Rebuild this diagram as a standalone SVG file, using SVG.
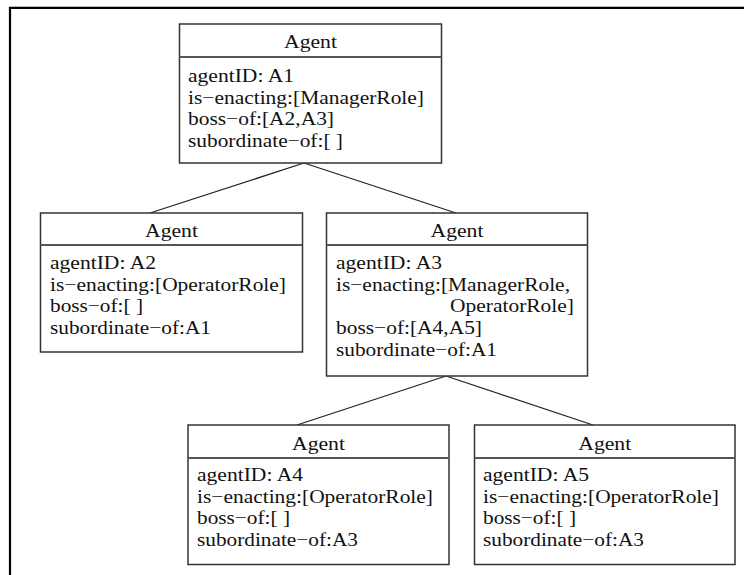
<svg xmlns="http://www.w3.org/2000/svg" width="744" height="575" viewBox="0 0 744 575">
<style>
.box{fill:#fff;stroke:#333;stroke-width:1.5}
.div{stroke:#555;stroke-width:2}
.t{font-family:"Liberation Serif","Times New Roman",serif;font-size:18.6px;fill:#111}
.h{text-anchor:middle}
.e{text-anchor:end}
.c{stroke:#222;stroke-width:1.3;fill:none}
.frame{stroke:#000;stroke-width:2.2;fill:none}
</style>
<rect width="744" height="575" fill="#fff"/>
<path class="frame" d="M10,575 V7.8 H744"/>
<g id="connectors">
<line class="c" x1="304" y1="163" x2="150" y2="213"/>
<line class="c" x1="304" y1="163" x2="456" y2="213"/>
<line class="c" x1="446" y1="376" x2="297" y2="425"/>
<line class="c" x1="446" y1="376" x2="593" y2="425"/>
</g>
<g id="agentA1">
<rect class="box" x="179.5" y="24" width="262" height="139"/>
<line class="div" x1="179.5" y1="57" x2="441.5" y2="57"/>
<text class="t h" x="310.5" y="48" textLength="53" lengthAdjust="spacingAndGlyphs">Agent</text>
<text class="t" x="188" y="82" textLength="106" lengthAdjust="spacingAndGlyphs">agentID: A1</text>
<text class="t" x="188" y="103.5" textLength="236" lengthAdjust="spacingAndGlyphs">is−enacting:[ManagerRole]</text>
<text class="t" x="188" y="125" textLength="146" lengthAdjust="spacingAndGlyphs">boss−of:[A2,A3]</text>
<text class="t" x="188" y="146.5" textLength="155" lengthAdjust="spacingAndGlyphs">subordinate−of:[ ]</text>
</g>
<g id="agentA2">
<rect class="box" x="40.5" y="213" width="262" height="139"/>
<line class="div" x1="40.5" y1="245" x2="302.5" y2="245"/>
<text class="t h" x="171.5" y="237" textLength="53" lengthAdjust="spacingAndGlyphs">Agent</text>
<text class="t" x="50" y="269" textLength="106" lengthAdjust="spacingAndGlyphs">agentID: A2</text>
<text class="t" x="50" y="290.5" textLength="236" lengthAdjust="spacingAndGlyphs">is−enacting:[OperatorRole]</text>
<text class="t" x="50" y="312" textLength="93" lengthAdjust="spacingAndGlyphs">boss−of:[ ]</text>
<text class="t" x="50" y="333.5" textLength="161" lengthAdjust="spacingAndGlyphs">subordinate−of:A1</text>
</g>
<g id="agentA3">
<rect class="box" x="326.5" y="213" width="261" height="163"/>
<line class="div" x1="326.5" y1="245" x2="587.5" y2="245"/>
<text class="t h" x="457" y="237" textLength="53" lengthAdjust="spacingAndGlyphs">Agent</text>
<text class="t" x="336" y="269" textLength="106" lengthAdjust="spacingAndGlyphs">agentID: A3</text>
<text class="t" x="336" y="290.5" textLength="234" lengthAdjust="spacingAndGlyphs">is−enacting:[ManagerRole,</text>
<text class="t e" x="574" y="312" textLength="124" lengthAdjust="spacingAndGlyphs">OperatorRole]</text>
<text class="t" x="336" y="334" textLength="146" lengthAdjust="spacingAndGlyphs">boss−of:[A4,A5]</text>
<text class="t" x="336" y="356" textLength="161" lengthAdjust="spacingAndGlyphs">subordinate−of:A1</text>
</g>
<g id="agentA4">
<rect class="box" x="188" y="425" width="261" height="139.5"/>
<line class="div" x1="188" y1="458" x2="449" y2="458"/>
<text class="t h" x="318.5" y="450" textLength="53" lengthAdjust="spacingAndGlyphs">Agent</text>
<text class="t" x="197" y="481" textLength="106" lengthAdjust="spacingAndGlyphs">agentID: A4</text>
<text class="t" x="197" y="502.5" textLength="236" lengthAdjust="spacingAndGlyphs">is−enacting:[OperatorRole]</text>
<text class="t" x="197" y="524" textLength="93" lengthAdjust="spacingAndGlyphs">boss−of:[ ]</text>
<text class="t" x="197" y="545.5" textLength="161" lengthAdjust="spacingAndGlyphs">subordinate−of:A3</text>
</g>
<g id="agentA5">
<rect class="box" x="474.5" y="425" width="260.5" height="139.5"/>
<line class="div" x1="474.5" y1="458" x2="735" y2="458"/>
<text class="t h" x="604.75" y="450" textLength="53" lengthAdjust="spacingAndGlyphs">Agent</text>
<text class="t" x="483" y="481" textLength="106" lengthAdjust="spacingAndGlyphs">agentID: A5</text>
<text class="t" x="483" y="502.5" textLength="236" lengthAdjust="spacingAndGlyphs">is−enacting:[OperatorRole]</text>
<text class="t" x="483" y="524" textLength="93" lengthAdjust="spacingAndGlyphs">boss−of:[ ]</text>
<text class="t" x="483" y="545.5" textLength="161" lengthAdjust="spacingAndGlyphs">subordinate−of:A3</text>
</g>
</svg>
